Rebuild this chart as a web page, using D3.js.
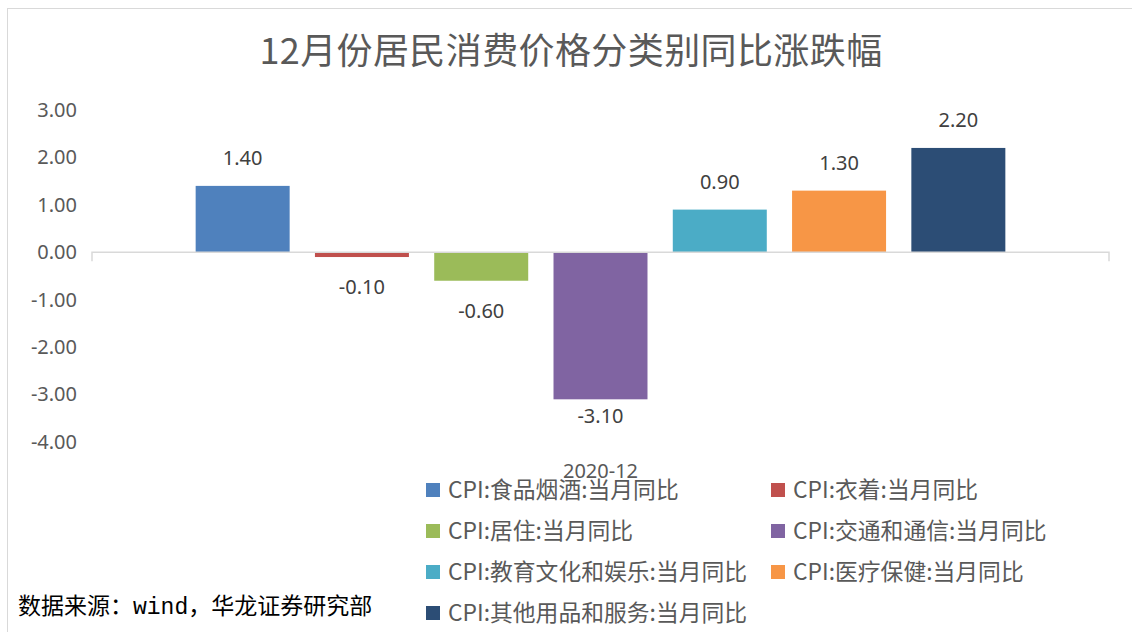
<!DOCTYPE html>
<html lang="zh">
<head>
    <meta charset="UTF-8">
    <title>12月份居民消费价格分类别同比涨跌幅</title>
    <script src="https://d3js.org/d3.v7.min.js"></script>
    <style>
        body { margin: 0; background: #fff; }
        svg { display: block; font-family: "Noto Sans CJK SC", "Noto Sans", sans-serif; }
    </style>
</head>
<body>
<svg id="chart" width="1132" height="632"></svg>
<script>
    const categories = ["2020-12"];
    const seriesNames = [
        "CPI:食品烟酒:当月同比",
        "CPI:衣着:当月同比",
        "CPI:居住:当月同比",
        "CPI:交通和通信:当月同比",
        "CPI:教育文化和娱乐:当月同比",
        "CPI:医疗保健:当月同比",
        "CPI:其他用品和服务:当月同比"
    ];
    const seriesValues = [1.4, -0.1, -0.6, -3.1, 0.9, 1.3, 2.2];
    const seriesColors = ["#4f81bd", "#c0504d", "#9bbb59", "#8064a2", "#4bacc6", "#f79646", "#2c4d75"];
    const yTicks = [3, 2, 1, 0, -1, -2, -3, -4];

    const title = "12月份居民消费价格分类别同比涨跌幅";
    const source = "数据来源：wind，华龙证券研究部";

    // plain hyphen for negatives, like the original
    const fmt = d3.formatLocale({decimal: ".", thousands: ",", grouping: [3], currency: ["", ""], minus: "-"}).format(".2f");

    const svg = d3.select("#chart");

    // chart frame
    svg.append("rect")
        .attr("x", 7.5).attr("y", 8.5)
        .attr("width", 1300).attr("height", 800)
        .attr("fill", "none").attr("stroke", "#d9d9d9");

    svg.append("text")
        .attr("x", 571).attr("y", 64)
        .attr("text-anchor", "middle")
        .attr("font-size", 36)
        .attr("letter-spacing", 0.4)
        .attr("fill", "#595959")
        .text(title);

    const x0 = d3.scaleBand().domain(categories).range([92, 1109]).paddingInner(0).paddingOuter(0.109);
    const x1 = d3.scaleBand().domain(seriesNames).range([0, x0.bandwidth()]).paddingInner(0.212).paddingOuter(0.106);
    const y = d3.scaleLinear().domain([-4, 3]).range([442, 110]);

    const yAxis = svg.append("g")
        .attr("transform", "translate(92,0)")
        .call(d3.axisLeft(y).tickValues(yTicks).tickSize(0).tickPadding(15).tickFormat(fmt));
    yAxis.select(".domain").remove();
    yAxis.selectAll("text")
        .attr("font-size", 20)
        .attr("font-family", "'Noto Sans', sans-serif")
        .attr("fill", "#595959");

    const rows = seriesNames.map((name, i) => ({name: name, value: seriesValues[i], color: seriesColors[i]}));

    const group = svg.append("g")
        .selectAll("g")
        .data(categories)
        .join("g")
        .attr("transform", d => `translate(${x0(d)},0)`);

    group.selectAll("rect")
        .data(rows)
        .join("rect")
        .attr("x", d => x1(d.name))
        .attr("width", x1.bandwidth())
        .attr("y", d => Math.min(y(d.value), y(0)))
        .attr("height", d => Math.abs(y(d.value) - y(0)))
        .attr("fill", d => d.color);

    group.selectAll("text.value")
        .data(rows)
        .join("text")
        .attr("class", "value")
        .attr("x", d => x1(d.name) + x1.bandwidth() / 2)
        .attr("y", d => d.value >= 0 ? y(d.value) - 21 : Math.min(y(d.value) + 37, y(-3.6)))
        .attr("text-anchor", "middle")
        .attr("font-size", 20)
        .attr("font-family", "'Noto Sans', sans-serif")
        .attr("fill", "#404040")
        .text(d => fmt(d.value));

    // zero line with end ticks
    const zero = y(0);
    svg.append("path")
        .attr("d", `M92,${zero + 9}V${zero}H1109V${zero + 9}`)
        .attr("fill", "none")
        .attr("stroke", "#d9d9d9")
        .attr("stroke-width", 1.5);

    svg.selectAll("text.cat")
        .data(categories)
        .join("text")
        .attr("class", "cat")
        .attr("x", d => x0(d) + x0.bandwidth() / 2)
        .attr("y", 478)
        .attr("text-anchor", "middle")
        .attr("font-size", 20)
        .attr("font-family", "'Noto Sans', sans-serif")
        .attr("fill", "#595959")
        .text(d => d);

    // legend, two columns
    const legendX = [426, 771];
    const legend = svg.append("g")
        .selectAll("g")
        .data(rows)
        .join("g")
        .attr("transform", (d, i) => `translate(${legendX[i % 2]},${490 + Math.floor(i / 2) * 41})`);
    legend.append("rect")
        .attr("x", 0).attr("y", -7)
        .attr("width", 14).attr("height", 14)
        .attr("fill", d => d.color);
    legend.append("text")
        .attr("x", 22).attr("dy", "0.36em")
        .attr("font-size", 22.8)
        .attr("fill", "#595959")
        .text(d => d.name);

    svg.append("text")
        .attr("x", 18).attr("y", 614)
        .attr("font-size", 23)
        .attr("font-family", "'Liberation Mono', 'Noto Sans CJK SC', monospace")
        .attr("fill", "#000")
        .text(source);
</script>
</body>
</html>
